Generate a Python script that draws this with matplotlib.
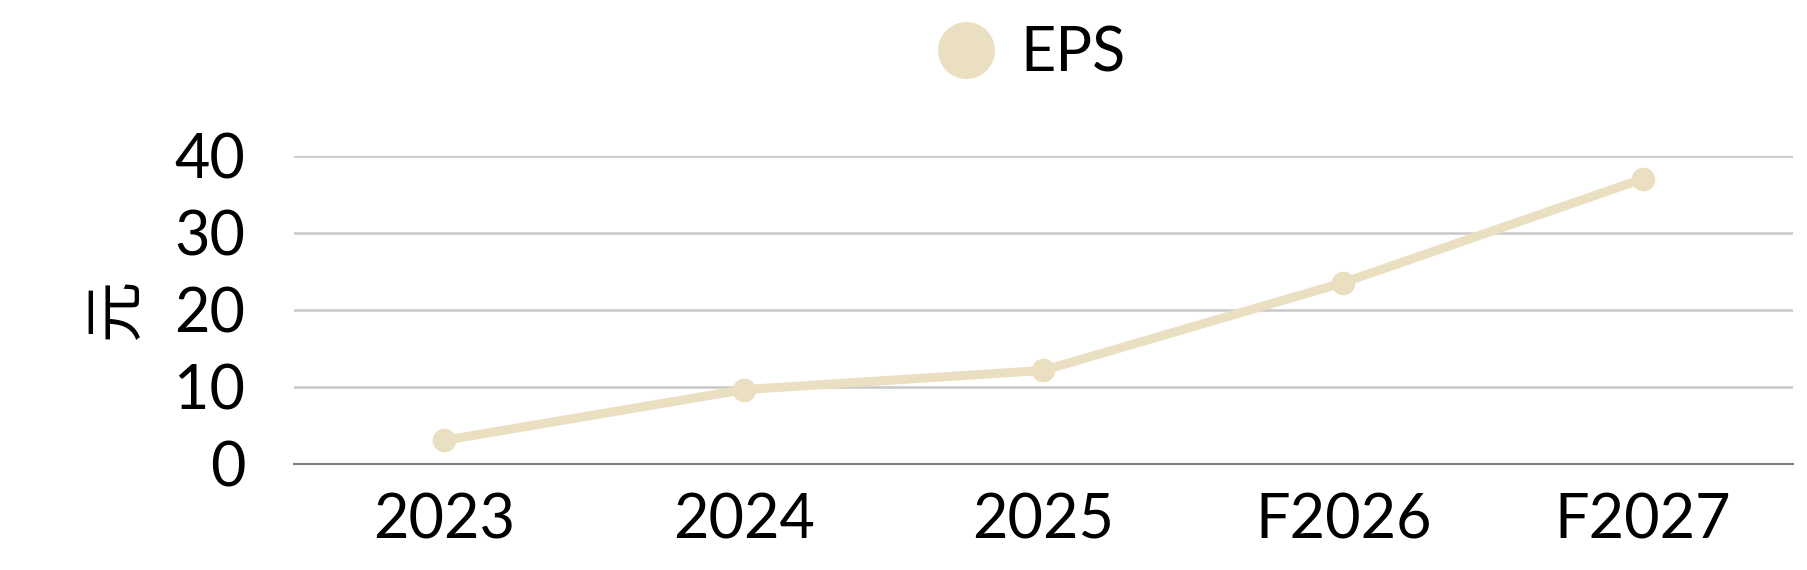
import matplotlib
matplotlib.use("Agg")
import matplotlib.pyplot as plt
from matplotlib.lines import Line2D

plt.rcParams['font.family'] = ['Lato', 'Noto Sans CJK SC', 'DejaVu Sans']

years = ['2023', '2024', '2025', 'F2026', 'F2027']
eps = [3.0, 9.6, 12.1, 23.5, 37.0]
y_ticks = [0, 10, 20, 30, 40]

line_color = '#ebdfc1'

fig = plt.figure(figsize=(18.08, 5.70), dpi=100)
ax = fig.add_axes([0.1626, 0.1868, 0.829, 0.540])

x = list(range(len(years)))
ax.plot(x, eps, color=line_color, lw=6.5, marker='o', markersize=16,
        solid_capstyle='round', zorder=3)

ax.set_xlim(-0.5, len(years) - 0.5)
ax.set_ylim(0, 40)
ax.set_xticks(x)
ax.set_xticklabels(years)
ax.set_yticks(y_ticks)
ax.tick_params(axis='x', length=0, pad=21, labelsize=44)
ax.tick_params(axis='y', length=0, pad=35, labelsize=44)

for s in ['top', 'right', 'left']:
    ax.spines[s].set_visible(False)
ax.spines['bottom'].set_color('#808080')
ax.spines['bottom'].set_linewidth(1.5)
ax.grid(axis='y', color='#c8c8c8', lw=1.8)
ax.set_axisbelow(True)

ax.set_ylabel('元', fontsize=44, labelpad=22)

handle = Line2D([], [], color=line_color, marker='o', linestyle='none', markersize=40)
fig.legend([handle], ['EPS'], loc='center', bbox_to_anchor=(0.570, 0.905),
           frameon=False, fontsize=44, handletextpad=0.4, handlelength=1.0)

fig.savefig('out.png', dpi=100, facecolor='white')
